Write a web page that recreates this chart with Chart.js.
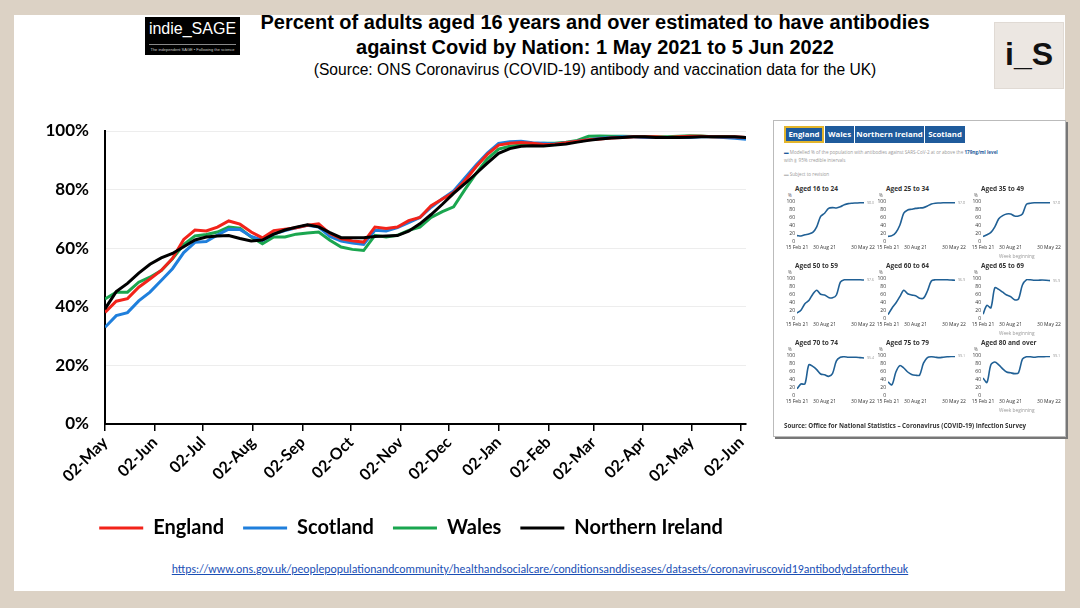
<!DOCTYPE html>
<html>

<head>
  <title>Antibodies by Nation</title>
  <script src="https://cdn.jsdelivr.net/npm/chart.js@4"></script>
  <style>
    body { margin: 0; width: 1080px; height: 608px; background: #dcd2c5; position: relative; overflow: hidden; font-family: 'Liberation Sans', Arial, sans-serif; }
    .abs { position: absolute; }
    #slide { left: 14px; top: 15px; width: 1051px; height: 576px; background: #fff; }
    #logo { left: 145px; top: 17px; width: 95px; height: 38px; background: #000; color: #fff; }
    #logo .big { position: absolute; left: 0; width: 95px; top: 3px; text-align: center; font-size: 16px; }
    #logo .line { position: absolute; left: 4px; width: 87px; top: 27px; border-top: 1px solid #888; }
    #logo .small { position: absolute; left: 0; width: 95px; top: 30px; text-align: center; font-size: 4px; color: #ccc; }
    #is { left: 994px; top: 22px; width: 68px; height: 65px; background: #ece7e2; border: 1px solid #e0dad4; font-weight: bold; font-size: 32px; text-align: center; line-height: 62px; color: #111; }
    #title { left: 220px; width: 750px; top: 10px; text-align: center; font-weight: bold; font-size: 20px; line-height: 25px; color: #000; }
    #sub { left: 220px; width: 750px; top: 61px; text-align: center; font-size: 15.6px; color: #000; }
    #mainWrap { left: 20px; top: 100px; width: 740px; height: 448px; }
    #url { left: 130px; width: 820px; top: 562px; text-align: center; font-family: Carlito, Lato, sans-serif; font-size: 11.8px; color: #1a4fb5; text-decoration: underline; }
    #inset { left: 773px; top: 120px; width: 291px; height: 315px; background: #fff; border: 1px solid #bbb; box-shadow: 2px 2px 0 #777; font-family: 'Open Sans', sans-serif; }
    .tab { position: absolute; top: 126px; height: 17px; background: #1f5b9c; color: #fff; font-family: 'Open Sans', sans-serif; font-weight: bold; font-size: 7.8px; line-height: 17px; text-align: center; box-sizing: border-box; }
    .tab.sel { border: 2px solid #e3b52c; line-height: 13px; }
    .note { position: absolute; font-family: 'Open Sans', sans-serif; font-size: 4.6px; color: #999; white-space: nowrap; }
    .mtitle { position: absolute; font-family: 'Open Sans', sans-serif; font-weight: bold; font-size: 6.5px; color: #333; white-space: nowrap; }
    .pct { position: absolute; font-family: 'Open Sans', sans-serif; font-size: 4.5px; color: #555; }
    .wk { position: absolute; font-family: 'Open Sans', sans-serif; font-size: 4.8px; color: #999; white-space: nowrap; }
    .mini { position: absolute; width: 111px; height: 55px; }
    #source { left: 784px; top: 421px; font-family: 'Open Sans', sans-serif; font-weight: bold; font-size: 6.2px; color: #333; white-space: nowrap; }
  </style>
</head>

<body>
  <div id="slide" class="abs"></div>
  <div id="logo" class="abs">
    <div class="big">indie_SAGE</div>
    <div class="line"></div>
    <div class="small">The independent SAGE • Following the science</div>
  </div>
  <div id="is" class="abs">i_S</div>
  <div id="title" class="abs">Percent of adults aged 16 years and over estimated to have antibodies<br>against Covid by Nation: 1 May 2021 to 5 Jun 2022</div>
  <div id="sub" class="abs">(Source: ONS Coronavirus (COVID-19) antibody and vaccination data for the UK)</div>

  <div id="mainWrap" class="abs"><canvas id="mainChart"></canvas></div>

  <!-- ONS panel on the right -->
  <div id="inset" class="abs"></div>
  <div class="tab sel" style="left:784px;width:40px;">England</div>
  <div class="tab" style="left:825px;width:29px;">Wales</div>
  <div class="tab" style="left:855px;width:69px;">Northern Ireland</div>
  <div class="tab" style="left:925px;width:40px;">Scotland</div>
  <div class="note" style="left:784px;top:149px;"><span style="color:#1f5b9c">▬</span> Modelled % of the population with antibodies against SARS-CoV-2 at or above the <b style="color:#1f5b9c">179ng/ml level</b></div>
  <div class="note" style="left:784px;top:157px;">with <span style="color:#ccc">▮</span> 95% credible intervals</div>
  <div class="note" style="left:784px;top:171px;"><span style="color:#bbb">▬</span> Subject to revision</div>
  <div id="minis"></div>
  <div id="source" class="abs">Source: Office for National Statistics – Coronavirus (COVID-19) Infection Survey</div>

  <div id="url" class="abs">https://www.ons.gov.uk/peoplepopulationandcommunity/healthandsocialcare/conditionsanddiseases/datasets/coronaviruscovid19antibodydatafortheuk</div>

  <script>
    // weekly estimates, first week beginning 02 May 2021
    const firstWeek = '2021-05-02';
    const england = [38.1, 41.9, 42.8, 46.7, 49.5, 52.4, 56.5, 63.0, 66.2, 65.9, 67.2, 69.3, 68.2, 65.5, 63.5, 66.0, 66.5, 67.0, 67.8, 68.3,
      65.0, 63.2, 62.5, 62.1, 67.2, 66.7, 67.2, 69.4, 70.5, 74.5, 76.8, 79.0, 83.0, 87.8, 92.0, 95.2, 95.8, 96.1, 95.8, 95.4,
      95.5, 96.0, 96.5, 97.0, 97.3, 97.6, 97.8, 98.0, 98.0, 98.0, 97.8, 98.0, 98.2, 98.2, 98.0, 98.0, 98.0, 97.8];
    const scotland = [33.0, 37.0, 38.0, 42.0, 45.0, 49.0, 53.0, 58.5, 62.0, 62.3, 64.5, 66.5, 66.4, 64.0, 62.7, 64.8, 66.0, 67.0, 67.8, 67.2,
      64.0, 62.4, 61.8, 61.3, 66.1, 65.9, 67.0, 68.7, 70.5, 74.0, 76.9, 79.5, 84.0, 88.4, 92.5, 95.8, 96.3, 96.5, 96.0, 95.8,
      95.6, 96.0, 96.5, 97.0, 97.5, 97.8, 98.0, 98.0, 97.8, 97.8, 97.8, 97.8, 97.8, 98.0, 98.0, 97.8, 97.5, 97.2];
    const wales = [42.7, 45.0, 45.0, 48.4, 50.1, 52.4, 56.4, 61.2, 64.2, 64.7, 65.5, 67.2, 66.8, 63.8, 61.5, 63.8, 63.8, 64.8, 65.2, 65.5,
      62.7, 60.4, 59.6, 59.2, 64.4, 63.8, 64.4, 66.1, 67.2, 70.5, 72.5, 74.1, 80.0, 85.5, 90.5, 93.8, 94.8, 95.2, 95.5, 95.8,
      95.8, 96.2, 96.8, 98.2, 98.3, 98.2, 98.2, 98.1, 98.0, 98.0, 98.0, 98.2, 98.4, 98.3, 98.0, 98.0, 97.8, 97.6];
    const northernIreland = [39.3, 45.2, 48.0, 51.5, 54.5, 56.7, 58.2, 60.5, 62.8, 63.8, 64.2, 64.3, 63.3, 62.5, 62.8, 64.8, 66.2, 67.2, 68.0, 67.3,
      65.3, 63.6, 63.6, 63.6, 64.0, 64.2, 64.3, 65.8, 68.3, 71.5, 75.0, 78.7, 82.0, 85.5, 89.0, 92.4, 94.0, 94.8, 95.0, 94.9,
      95.2, 95.6, 96.2, 96.8, 97.3, 97.6, 97.8, 98.0, 98.0, 97.8, 97.8, 97.8, 97.9, 98.0, 98.0, 98.0, 98.0, 97.8];
    const nations = ['England', 'Scotland', 'Wales', 'Northern Ireland'];
    const nationColors = ['#f2231a', '#1f7fdc', '#1aa64f', '#000000'];

    const tickDates = ['2021-05-02', '2021-06-02', '2021-07-02', '2021-08-02', '2021-09-02', '2021-10-02', '2021-11-02',
      '2021-12-02', '2022-01-02', '2022-02-02', '2022-03-02', '2022-04-02', '2022-05-02', '2022-06-02'];
    const tickLabels = ['02-May', '02-Jun', '02-Jul', '02-Aug', '02-Sep', '02-Oct', '02-Nov',
      '02-Dec', '02-Jan', '02-Feb', '02-Mar', '02-Apr', '02-May', '02-Jun'];

    // ONS panel: age groups, week offsets from 15 Feb 2021
    const ageGroups = ['Aged 16 to 24', 'Aged 25 to 34', 'Aged 35 to 49', 'Aged 50 to 59', 'Aged 60 to 64', 'Aged 65 to 69',
      'Aged 70 to 74', 'Aged 75 to 79', 'Aged 80 and over'];
    const miniWeeks = [0, 4, 8, 12, 16, 20, 24, 28, 32, 36, 40, 44, 48, 52, 56, 60, 64, 68];
    const age16to24 = [16, 15, 18, 20, 24, 38, 64, 72, 84, 86, 85, 88, 93, 96, 97, 97.5, 98, 98];
    const age25to34 = [14, 16, 24, 42, 72, 80, 82, 84, 85, 86, 90, 95, 97, 97.5, 98, 98, 98, 98];
    const age35to49 = [14, 18, 24, 38, 58, 66, 70, 70, 65, 65, 70, 94, 97, 98, 98, 98, 98, 98];
    const age50to59 = [15, 22, 38, 46, 62, 72, 62, 60, 54, 53, 60, 92, 98, 98, 98, 98, 98, 97.5];
    const age60to64 = [11, 27, 40, 56, 72, 63, 60, 58, 52, 52, 70, 95, 98, 98, 98, 98, 97.5, 97];
    const age65to69 = [12, 34, 28, 78, 74, 67, 60, 56, 48, 50, 85, 98, 98, 97, 97, 97.5, 97, 96];
    const age70to74 = [18, 30, 30, 78, 74, 66, 55, 53, 49, 56, 88, 97, 98, 97, 97, 97, 96, 95];
    const age75to79 = [35, 28, 60, 76, 70, 60, 54, 52, 52, 82, 96, 98, 97, 96, 97, 98, 99, 99];
    const age80plus = [45, 34, 78, 85, 78, 68, 60, 58, 56, 58, 92, 98, 98, 97, 98, 98, 99, 99];
    const ageSeries = [age16to24, age25to34, age35to49, age50to59, age60to64, age65to69, age70to74, age75to79, age80plus];
    const latestLabels = ['98.0', '97.8', '97.8', '97.6', '96.9', '95.9', '95.4', '99.1', '99.1'];
    const miniTickWeeks = [0, 28, 67];
    const miniTickLabels = ['15 Feb 21', '30 Aug 21', '30 May 22'];

    function daysFrom(start, d) {
      return Math.round((new Date(d) - new Date(start)) / 86400000);
    }

    const seriesList = [england, scotland, wales, northernIreland];
    const datasets = seriesList.map(function (series, k) {
      return {
        label: nations[k],
        data: series.map(function (v, i) { return { x: i * 7, y: v }; }),
        borderColor: nationColors[k],
        backgroundColor: nationColors[k],
        borderWidth: 3,
        pointRadius: 0,
        pointStyle: 'line',
        order: k == 3 ? -1 : 0 // black line on top
      };
    });

    // legend sits a bit right of the canvas centre in the original
    const legendShift = {
      id: 'legendShift',
      afterLayout: function (chart) {
        chart.legend.left += 28;
        chart.legend.right += 28;
      }
    };

    const mainFont = "Lato, 'Open Sans', sans-serif";
    new Chart(document.getElementById('mainChart'), {
      type: 'line',
      data: { datasets: datasets },
      options: {
        responsive: true,
        maintainAspectRatio: false,
        animation: false,
        layout: { padding: { top: 31, right: 14, left: 0, bottom: 0 } },
        plugins: {
          tooltip: { enabled: false },
          legend: {
            position: 'bottom',
            labels: {
              usePointStyle: true,
              pointStyleWidth: 44,
              padding: 19,
              color: '#000',
              font: { family: mainFont, size: 20, weight: 'bold' },
              sort: function (a, b) { return a.datasetIndex - b.datasetIndex; }
            }
          }
        },
        scales: {
          x: {
            type: 'linear',
            min: 0,
            max: (england.length - 1) * 7,
            afterBuildTicks: function (scale) {
              scale.ticks = tickDates.map(function (d) { return { value: daysFrom(firstWeek, d) }; });
            },
            afterFit: function (scale) { scale.height = 75; },
            grid: { drawOnChartArea: false, drawTicks: true, tickLength: 7, color: '#000', lineWidth: 1.5 },
            border: { color: '#000', width: 2 },
            ticks: {
              autoSkip: false,
              minRotation: 45,
              maxRotation: 45,
              padding: 2,
              color: '#000',
              font: { family: mainFont, size: 16, weight: 'bold' },
              callback: function (v, i) { return tickLabels[i]; }
            }
          },
          y: {
            min: 0,
            max: 100,
            afterFit: function (scale) { scale.width = 85; },
            grid: { color: '#ededed', drawTicks: false },
            border: { color: '#000', width: 2 },
            ticks: {
              stepSize: 20,
              padding: 16,
              color: '#000',
              font: { family: mainFont, size: 17, weight: 'bold' },
              callback: function (v) { return v + '%'; }
            }
          }
        }
      },
      plugins: [legendShift]
    });

    // small multiples from the ONS dashboard
    const colPlotLeft = [797, 888, 983];
    const rowPlotTop = [201, 278, 355];
    const rowTitleTop = [184, 261, 338];
    const minis = document.getElementById('minis');

    const endLabel = {
      id: 'endLabel',
      afterDatasetsDraw: function (chart) {
        const pts = chart.getDatasetMeta(0).data;
        const p = pts[pts.length - 1];
        const c = chart.ctx;
        c.save();
        c.fillStyle = '#999';
        c.font = "3.6px 'Open Sans'";
        c.textBaseline = 'middle';
        c.fillText(chart.options.plugins.endLabel.text, p.x + 3, p.y);
        c.restore();
      }
    };

    ageGroups.forEach(function (name, k) {
      const col = k % 3, row = Math.floor(k / 3);
      const left = colPlotLeft[col], top = rowPlotTop[row];
      const t = document.createElement('div');
      t.className = 'mtitle';
      t.style.left = (left - 2) + 'px';
      t.style.top = rowTitleTop[row] + 'px';
      t.textContent = name;
      minis.appendChild(t);
      const pc = document.createElement('div');
      pc.className = 'pct';
      pc.style.left = (left - 9) + 'px';
      pc.style.top = (top - 9) + 'px';
      pc.textContent = '%';
      minis.appendChild(pc);
      if (col == 2) {
        const w = document.createElement('div');
        w.className = 'wk';
        w.style.left = (left + 16) + 'px';
        w.style.top = (top + 52) + 'px';
        w.textContent = 'Week beginning';
        minis.appendChild(w);
      }
      const box = document.createElement('div');
      box.className = 'mini';
      box.style.left = (left - 22) + 'px';
      box.style.top = (top - 4) + 'px';
      const cv = document.createElement('canvas');
      box.appendChild(cv);
      minis.appendChild(box);
      const miniFont = { family: "'Open Sans'", size: 5 };
      new Chart(cv, {
        type: 'line',
        data: {
          datasets: [{
            data: ageSeries[k].map(function (v, i) { return { x: miniWeeks[i], y: v }; }),
            borderColor: '#206095',
            borderWidth: 1.6,
            pointRadius: 0,
            tension: 0.3
          }]
        },
        options: {
          responsive: true,
          maintainAspectRatio: false,
          animation: false,
          layout: { padding: { top: 4, right: 22, left: 0, bottom: 0 } },
          plugins: { legend: { display: false }, tooltip: { enabled: false }, endLabel: { text: latestLabels[k] } },
          scales: {
            x: {
              type: 'linear', min: 0, max: 68,
              afterBuildTicks: function (scale) {
                scale.ticks = miniTickWeeks.map(function (w) { return { value: w }; });
              },
              afterFit: function (scale) { scale.height = 10; },
              grid: { display: false, drawTicks: false },
              border: { display: false },
              ticks: { autoSkip: false, maxRotation: 0, padding: 3, color: '#333', font: miniFont, callback: function (v, i) { return miniTickLabels[i]; } }
            },
            y: {
              min: 0, max: 100,
              afterFit: function (scale) { scale.width = 22; },
              grid: { display: false, drawTicks: false },
              border: { display: false },
              ticks: { stepSize: 20, autoSkip: false, padding: 2, color: '#333', font: miniFont }
            }
          }
        },
        plugins: [endLabel]
      });
    });
  </script>
</body>

</html>
